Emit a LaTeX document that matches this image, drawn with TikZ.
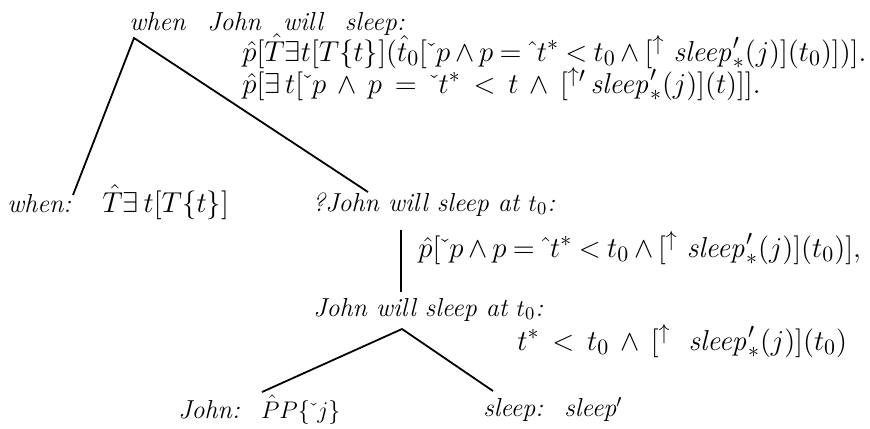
\documentclass[tikz,border=0pt]{standalone}
\usepackage{amsmath,amssymb}
\usetikzlibrary{positioning}

\newcommand{\Dn}{\mathord{\check{\hphantom{\imath}}}}
\newcommand{\Up}{\mathord{\hat{\hphantom{\imath}}}}
\newcommand{\Slp}{\mathit{sleep}'_{*}}
\newcommand{\widemath}{\medmuskip=3mu\relax\thickmuskip=4mu\relax}
\newcommand{\widermath}{\medmuskip=7mu\relax\thickmuskip=8mu\relax}

\begin{document}
\begin{tikzpicture}[
    x=0.5pt, y=-0.5pt,
    lbl/.style={anchor=base west, inner sep=0pt, font=\fontsize{13}{15}\selectfont\itshape},
    sem/.style={anchor=base west, inner sep=0pt, font=\fontsize{15}{18}\selectfont\widemath},
    loose/.style={font=\fontsize{15}{18}\selectfont\widermath},
    edge/.style={line width=0.9pt}
  ]
  \useasboundingbox (0,0) rectangle (870,428);
  % top of the tree
  \node[lbl] (root) at (129,30)
    {when\hspace{0.85em}John\hspace{0.85em}will\hspace{0.85em}sleep:};
  \node[sem] (rootsem) at (242,61)
    {$\hat{p}[\hat{T}\exists t[T\{t\}](\hat{t}_0[\Dn p\wedge p=\Up t^*<t_0\wedge[^{\uparrow}\ \Slp(j)](t_0)])].$};
  \node[sem, loose] (rootsem2) at (242,93)
    {$\hat{p}[\exists\,t[\Dn p\wedge p=\Dn t^*<t\wedge[^{\uparrow\prime}\,\Slp(j)](t)]].$};
  % second row
  \node[lbl] (when) at (7,212) {when:};
  \node[sem] (whensem) at (102,212) {$\hat{T}\exists\,t[T\{t\}]$};
  \node[lbl] (q) at (312,211) {?John will sleep at $t_0$:};
  \node[sem] (qsem) at (418,257)
    {$\hat{p}[\Dn p\wedge p=\Up t^*<t_0\wedge[^{\uparrow}\ \Slp(j)](t_0)],$};
  % third row
  \node[lbl] (s) at (313,316) {John will sleep at $t_0$:};
  \node[sem, loose] (ssem) at (517,350) {$t^*<t_0\wedge[^{\uparrow}\ \ \Slp(j)](t_0)$};
  % leaves
  \node[lbl] (john) at (178,418) {John: \ $\hat{P}P\{\Dn j\}$};
  \node[lbl] (sleep) at (483,416) {sleep: \ sleep$'$};
  % branch points
  \coordinate (rootfoot) at (134,38);
  \coordinate (whentop) at (73,195);
  \coordinate (qtop) at (368,192);
  \coordinate (qfoot) at (401,230);
  \coordinate (stop) at (401,292);
  \coordinate (sfoot) at (402,329);
  \coordinate (johntop) at (262,392);
  \coordinate (sleeptop) at (493,391);
  \draw[edge] (whentop) -- (rootfoot) -- (qtop);
  \draw[edge] (qfoot) -- (stop);
  \draw[edge] (johntop) -- (sfoot) -- (sleeptop);
\end{tikzpicture}
\end{document}
